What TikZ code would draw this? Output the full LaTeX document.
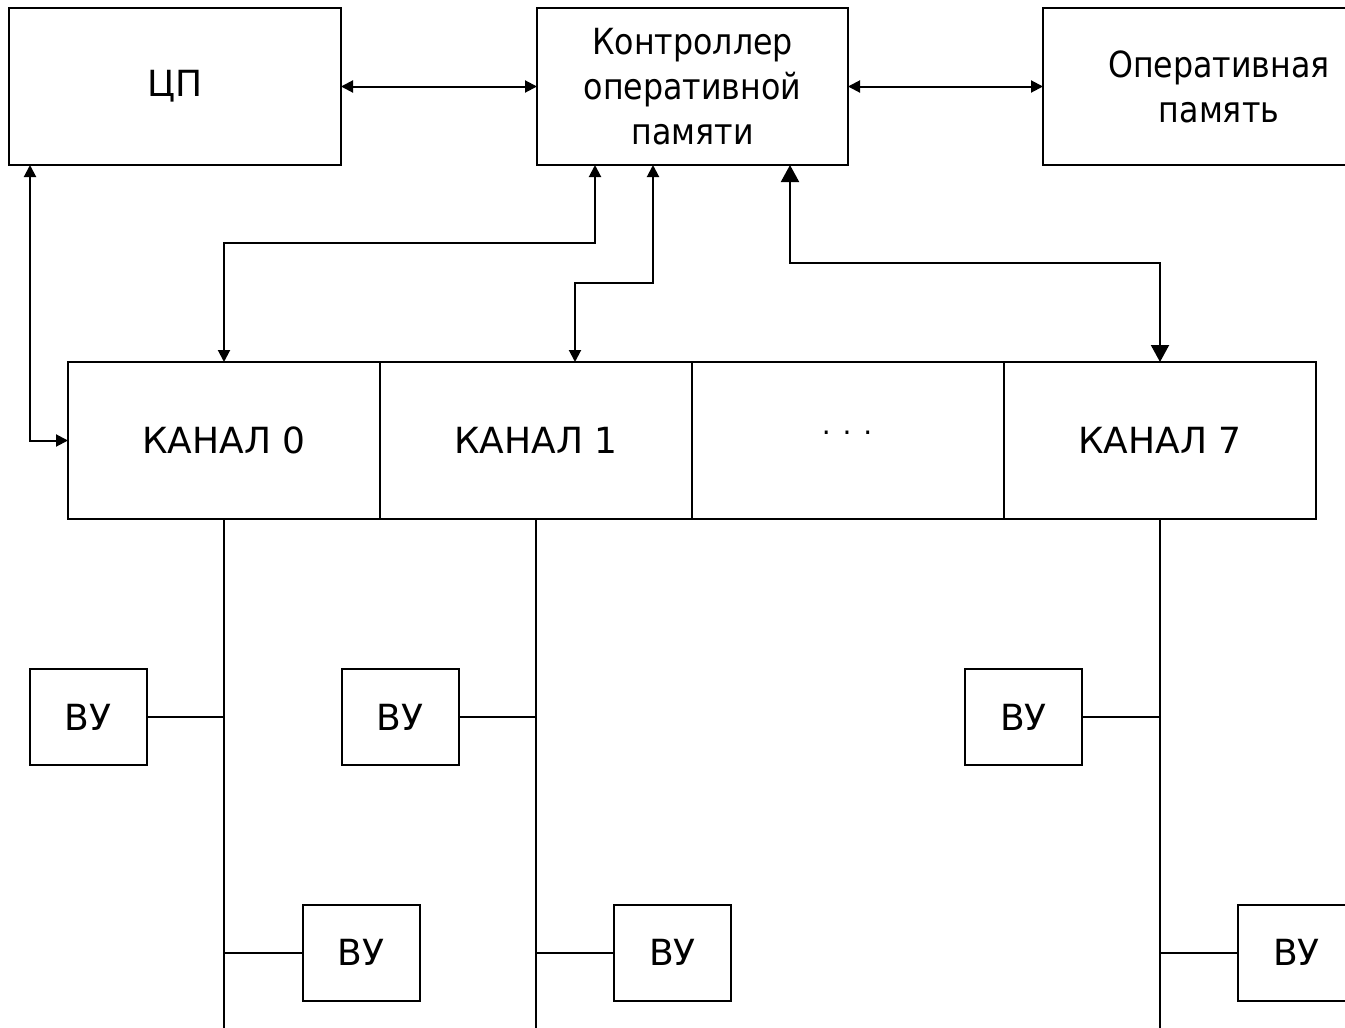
\documentclass[tikz,border=0pt]{standalone}
\usepackage{fontspec}
\setmainfont{DejaVu Sans}
\newfontfamily\narrowfont{DejaVu Sans}[FakeStretch=0.88]
\usetikzlibrary{calc,arrows.meta,positioning}

\begin{document}
\begin{tikzpicture}[x=0.5pt, y=-0.5pt, line width=1pt, line join=miter,
	>={Triangle[length=6pt,width=6pt]},
	font=\fontsize{18}{22.5}\selectfont,
	box/.style={draw, inner sep=0pt, outer sep=0pt, align=center},
	chanbox/.style={box, minimum width=156pt, minimum height=78.5pt},
	vubox/.style={box, minimum width=58.5pt, minimum height=48pt}]
	% Размеры рисунка
	\useasboundingbox (0,0) rectangle (1345,1028);
	\clip (0,0) rectangle (1345,1028);
	% Верхний ряд: процессор, контроллер, память
	\node[box, minimum width=166pt, minimum height=78.5pt] (cpu) at (175,86.5) {ЦП};
	\node[box, minimum width=155.5pt, minimum height=78.5pt, font=\fontsize{18}{22.5}\narrowfont] (ctrl) at (692.5,86.5) {Контроллер\\оперативной\\памяти};
	\node[box, minimum width=176pt, minimum height=78.5pt, font=\fontsize{18}{22.5}\narrowfont] (ram) at (1219,86.5) {Оперативная\\память};
	% Каналы
	\node[chanbox] (ch0) at (224,440.5) {КАНАЛ 0};
	\node[chanbox, right=0pt of ch0] (ch1) {КАНАЛ 1};
	\node[chanbox, right=0pt of ch1] (chd) {};
	\node[chanbox, right=0pt of chd] (ch7) {КАНАЛ 7};
	\node[anchor=base, font=\fontsize{14}{16}\selectfont] (dots) at (847,434) {. . .};
	% Связи верхнего ряда
	\draw[<->] (cpu.east) -- (ctrl.west);
	\draw[<->] (ctrl.east) -- (ram.west);
	\draw[<->] ([xshift=10.5pt]cpu.south west) |- (ch0.west);
	% Связи контроллера с каналами
	\draw[<->] ([xshift=29pt]ctrl.south west) -- ++(0,78) -| (ch0.north);
	\draw[<->] ([xshift=58pt]ctrl.south west) -- ++(0,118) -| ([xshift=97.5pt]ch1.north west);
	\draw[{Triangle[length=8.5pt,width=9pt]}-{Triangle[length=8.5pt,width=9pt]}]
		([xshift=126.5pt]ctrl.south west) -- ++(0,98) -| (ch7.north);
	% Шины каналов
	\foreach \c in {ch0,ch1,ch7}
		\draw (\c.south) -- (\c.south |- 0,1040) coordinate (\c-end);
	% Внешние устройства
	\node[vubox] (vu1) at (88,717) {ВУ};
	\node[vubox] (vu2) at (400,717) {ВУ};
	\node[vubox] (vu3) at (1023.5,717) {ВУ};
	\node[vubox] (vu4) at (361,952.5) {ВУ};
	\node[vubox] (vu5) at (672.5,952.5) {ВУ};
	\node[vubox] (vu6) at (1296.5,952.5) {ВУ};
	\foreach \v/\c in {vu1/ch0, vu2/ch1, vu3/ch7}
		\draw (\v.east) -- (\v.east -| \c.south);
	\foreach \v/\c in {vu4/ch0, vu5/ch1, vu6/ch7}
		\draw (\v.west) -- (\v.west -| \c.south);
\end{tikzpicture}
\end{document}
